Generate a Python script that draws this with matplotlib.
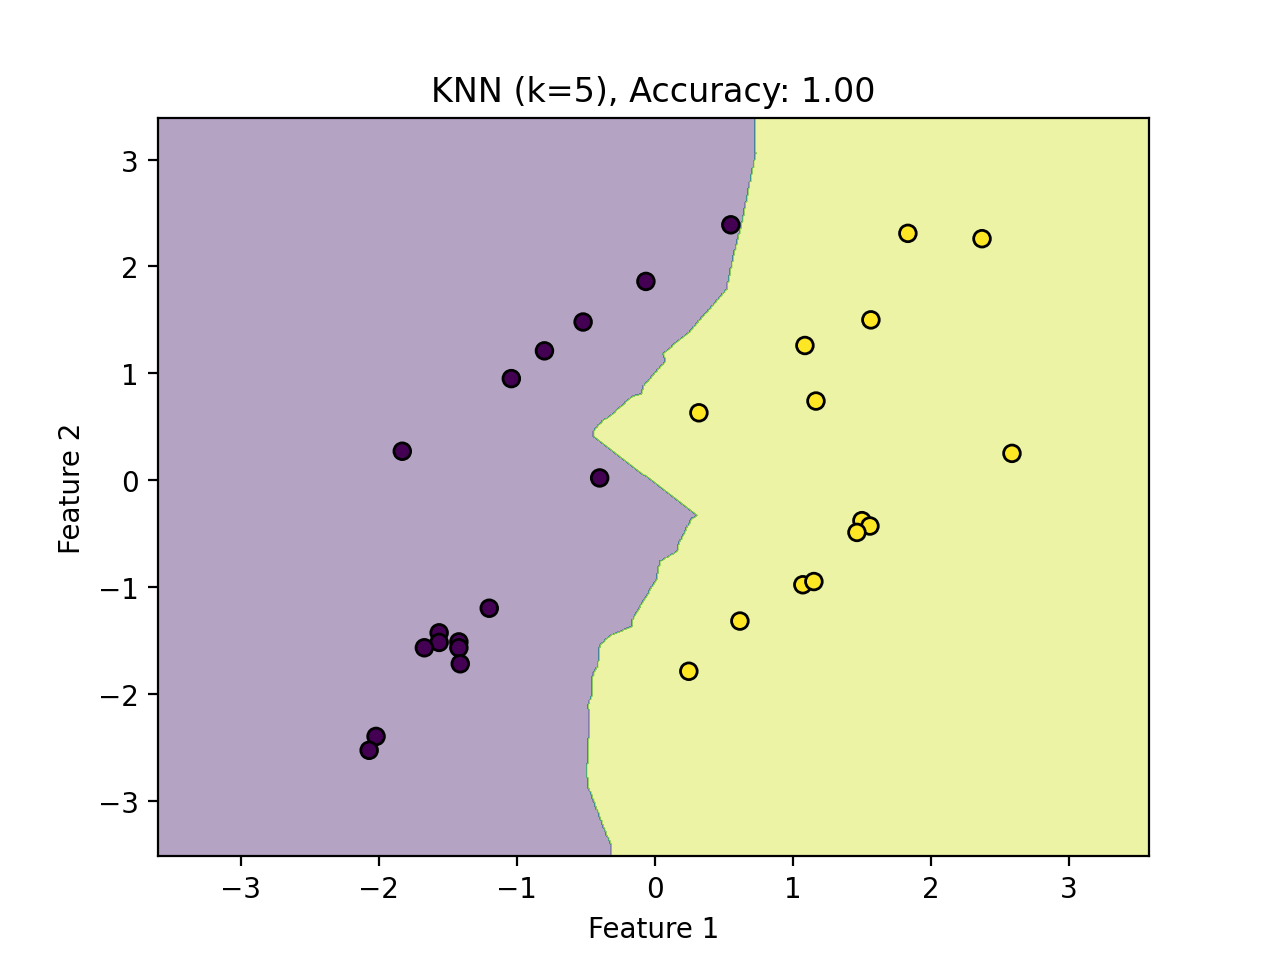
import numpy as np
import matplotlib
matplotlib.use("Agg")
import matplotlib.pyplot as plt

# test points shown on the plot (feature 1, feature 2) and their class
class0_x = [0.55, -0.065, -0.52, -0.80, -1.04, -1.83, -0.40, -1.20, -1.563, -1.563,
            -1.67, -1.42, -1.42, -1.41, -2.02, -2.07]
class0_y = [2.39, 1.86, 1.48, 1.21, 0.95, 0.27, 0.02, -1.20, -1.43, -1.52,
            -1.57, -1.515, -1.57, -1.72, -2.40, -2.53]
class1_x = [1.833, 2.37, 1.565, 1.087, 0.319, 1.167, 2.587, 1.50, 1.558, 1.464,
            1.072, 1.152, 0.616, 0.246]
class1_y = [2.31, 2.26, 1.50, 1.26, 0.63, 0.74, 0.25, -0.38, -0.43, -0.49,
            -0.98, -0.95, -1.32, -1.79]

# decision boundary (x of boundary at each y)
boundary_y = [3.39, 3.076, 3.067, 2.40, 2.09, 1.79, 1.746, 1.372, 1.353, 1.184,
              1.119, 0.876, 0.81, 0.78, 0.623, 0.548, 0.454, 0.417, -0.332, -0.36,
              -0.426, -0.613, -0.67, -0.763, -0.922, -1.297, -1.372, -1.456, -1.55,
              -1.737, -1.812, -2.018, -2.111, -2.205, -2.729, -2.86, -3.329, -3.422, -3.52]
boundary_x = [0.725, 0.725, 0.732, 0.628, 0.567, 0.520, 0.493, 0.239, 0.217, 0.058,
              0.080, -0.087, -0.094, -0.167, -0.304, -0.384, -0.449, -0.449, 0.304, 0.268,
              0.239, 0.167, 0.159, 0.036, 0.014, -0.159, -0.167, -0.326, -0.399,
              -0.413, -0.449, -0.457, -0.486, -0.471, -0.493, -0.486, -0.348, -0.312, -0.312]

x_min, x_max = -3.6, 3.58
y_min, y_max = -3.52, 3.39
h = 0.01

xx, yy = np.meshgrid(np.arange(x_min, x_max, h), np.arange(y_min, y_max, h))
bx = np.interp(yy, boundary_y[::-1], boundary_x[::-1])
Z = (xx > bx).astype(float)

X = np.array(list(zip(class0_x + class1_x, class0_y + class1_y)))
labels = np.array([0] * len(class0_x) + [1] * len(class1_x))

plt.figure(figsize=(6.38, 4.81), dpi=200)
plt.subplots_adjust(left=0.1238, right=0.9005, top=0.8763, bottom=0.1091)
plt.contourf(xx, yy, Z, alpha=0.4, cmap="viridis")
plt.scatter(X[:, 0], X[:, 1], c=labels, cmap="viridis", edgecolors="k")
plt.xlim(x_min, x_max)
plt.ylim(y_min, y_max)
plt.title("KNN (k=5), Accuracy: 1.00")
plt.xlabel("Feature 1")
plt.ylabel("Feature 2")
plt.savefig("out.png", dpi=200)
plt.close()
